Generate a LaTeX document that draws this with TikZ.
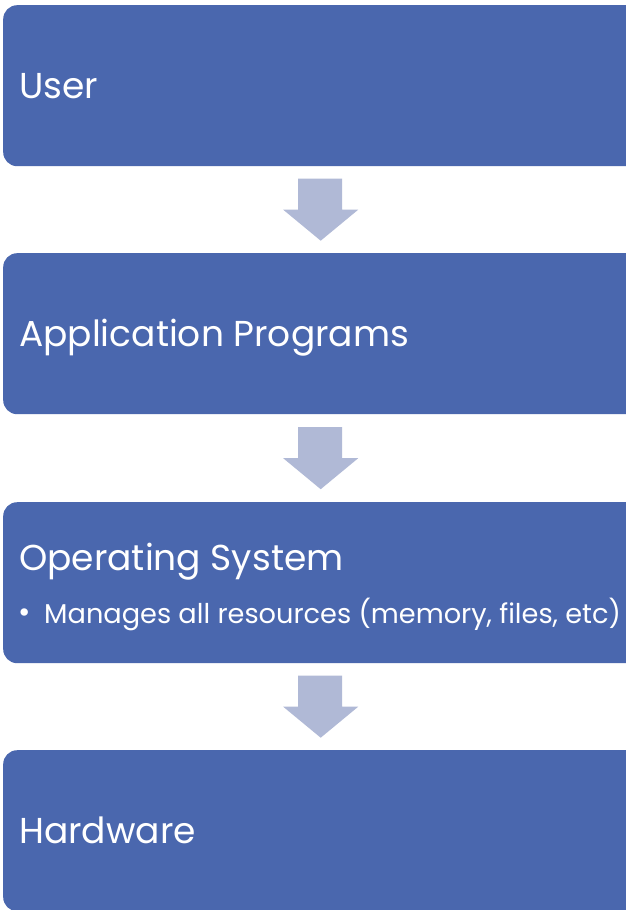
\documentclass[tikz,border=0pt]{standalone}
\usepackage{fontspec}
\setmainfont{Poppins}
\usetikzlibrary{calc}
\definecolor{boxblue}{HTML}{4A67AE}
\definecolor{arrowblue}{HTML}{B0B9D6}
\begin{document}
\begin{tikzpicture}[x=1pt,y=-1pt,
  blockbox/.style={fill=boxblue, rounded corners=14pt, minimum width=640pt, minimum height=161pt, inner sep=0pt, anchor=north west},
  title/.style={anchor=base west, text=white, font=\fontsize{36}{42}\selectfont, inner sep=0pt},
  bullet/.style={anchor=base west, text=white, font=\fontsize{27.2}{30}\selectfont, inner sep=0pt},
  downarrow/.style={fill=arrowblue}]
\useasboundingbox (0,0) rectangle (626,910);
\clip (0,0) rectangle (626,910);
\fill[white] (0,0) rectangle (626,910);
\node[blockbox] (user) at (3,5) {};
\node[blockbox] (app) at (3,253) {};
\node[blockbox] (os) at (3,502) {};
\node[blockbox] (hw) at (3,750) {};
\node[title] (tuser) at (19,98) {User};
\node[title] (tapp) at (19,346) {Application Programs};
\node[title] (tos) at (19,570) {Operating System};
\node[bullet] (tbul) at (18,623) {\makebox[26pt][l]{\raisebox{1pt}{\fontsize{30}{30}\selectfont•}}Manages all resources (memory, files, etc)};
\node[title] (thw) at (19,843) {Hardware};
\foreach \a/\b in {user/app, app/os, os/hw}{
  \coordinate (m) at ($(\a.south)!0.5!(\b.north)$);
  \fill[downarrow] ($(m)+(-25,-31)$) -- ($(m)+(19,-31)$) -- ($(m)+(19,0)$) -- ($(m)+(35,0)$)
     -- ($(m)+(-2.5,31)$) -- ($(m)+(-40,0)$) -- ($(m)+(-25,0)$) -- cycle;
}
\end{tikzpicture}
\end{document}
